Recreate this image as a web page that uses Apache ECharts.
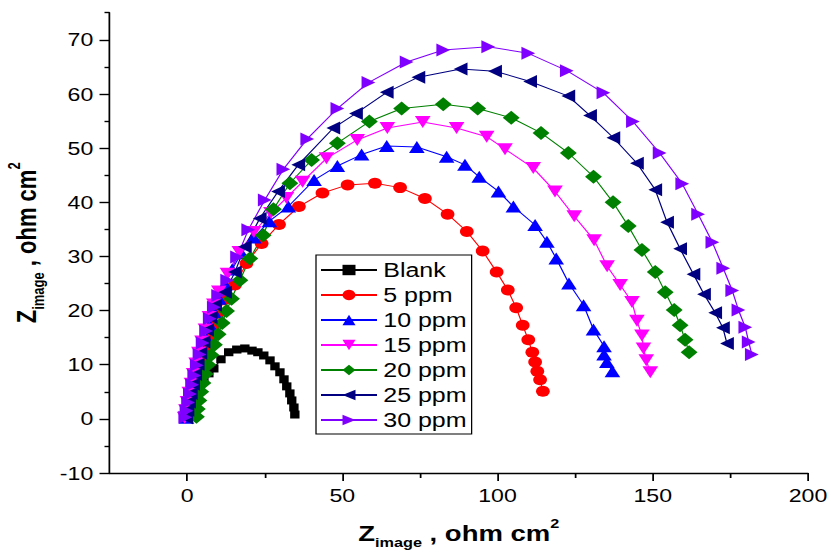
<!DOCTYPE html>
<html>
<head>
<meta charset="utf-8">
<script src="https://cdn.jsdelivr.net/npm/echarts@6/dist/echarts.min.js"></script>
<style>
  html, body { margin: 0; padding: 0; background: #fff; overflow: hidden; }
  /* the plot is laid out narrow and widened horizontally, like the wide-aspect original */
  #chart { width: 665px; height: 554px; transform: scaleX(1.25); transform-origin: 0 0; }
</style>
</head>
<body>
<div id="chart"></div>
<script>
// Nyquist plots: real vs imaginary impedance (ohm cm2) at each inhibitor dose
const seriesNames = ['Blank', '5 ppm', '10 ppm', '15 ppm', '20 ppm', '25 ppm', '30 ppm'];

const blankZ = [[0,0.1],[0.4,1.3],[1.0,2.6],[1.8,3.9],[2.8,5.1],[4.0,6.3],[5.4,7.4],[7.0,8.4],[8.6,9.3],[10.9,11.0],[13.4,12.3],[16.0,12.8],[18.6,13.0],[20.9,12.6],[22.8,12.3],[24.7,11.7],[26.7,10.8],[28.3,9.7],[29.9,8.6],[31.2,7.3],[32.1,6.0],[33.1,4.7],[33.7,3.4],[34.4,2.1],[34.7,0.8]];

const ppm5Z = [[0.5,0.3],[0.9,1.8],[1.5,3.4],[2.1,5.1],[2.9,6.9],[3.7,8.8],[4.7,10.8],[5.8,12.9],[7.0,15.0],[8.4,17.2],[10.0,19.5],[12.0,22.0],[15.4,24.7],[19.1,28.7],[24.0,32.4],[29.6,35.9],[36.0,39.2],[43.6,41.7],[51.7,43.2],[60.5,43.5],[68.6,42.7],[76.6,40.7],[83.9,37.8],[90.1,34.6],[95.2,31.0],[99.7,27.1],[103.3,23.8],[106.0,20.5],[108.1,17.3],[109.9,14.6],[111.2,12.3],[112.1,10.5],[112.8,8.8],[113.7,7.2],[114.6,5.1]];

const ppm10Z = [[-0.2,0.2],[0.3,1.7],[0.9,3.3],[1.5,5.0],[2.2,6.8],[3.0,8.7],[3.9,10.7],[4.9,12.8],[6.0,15.0],[7.3,17.3],[8.7,19.7],[10.3,22.2],[12.2,24.8],[14.5,27.6],[17.5,30.6],[21.5,33.5],[26.5,36.5],[32.6,39.2],[40.9,44.1],[48.4,46.7],[56.2,48.8],[64.3,50.4],[74.0,50.2],[83.6,48.4],[89.5,46.9],[94.1,44.7],[100.3,42.0],[105.1,39.2],[112.1,35.8],[115.9,32.7],[118.9,29.6],[123.0,25.0],[127.7,21.0],[130.9,16.5],[134.3,13.4],[134.3,11.9],[135.2,10.5],[137.0,8.8]];

const ppm15Z = [[-0.8,0.2],[-0.4,1.6],[0.1,3.1],[0.7,4.8],[1.4,6.5],[2.1,8.3],[2.9,10.2],[3.8,12.2],[4.8,14.3],[5.9,16.5],[7.2,18.8],[8.6,21.1],[10.2,23.5],[13.0,26.8],[16.8,30.8],[21.5,34.5],[27.0,38.0],[32.0,40.8],[37.2,43.8],[44.9,48.1],[54.8,51.5],[64.5,53.7],[75.9,54.8],[86.8,53.7],[96.5,52.1],[102.4,49.8],[111.5,46.3],[118.5,42.0],[124.7,37.4],[131.1,33.0],[135.3,28.2],[139.5,24.7],[143.3,21.6],[144.9,18.1],[146.5,15.4],[147.0,13.0],[147.9,10.8],[149.2,8.6]];

const ppm20Z = [[3.0,0.4],[3.3,1.8],[3.8,3.4],[4.4,5.0],[5.1,6.6],[5.8,8.3],[6.7,10.0],[7.7,11.8],[8.8,13.7],[10.0,15.6],[11.3,17.7],[12.7,19.9],[14.3,22.2],[17.0,25.6],[20.2,29.6],[24.5,33.9],[27.8,38.7],[33.1,43.5],[40.1,47.8],[48.4,50.9],[58.7,54.9],[69.1,57.3],[82.5,58.1],[93.6,57.3],[104.4,55.6],[114.0,52.8],[122.8,49.1],[130.9,44.7],[137.2,40.0],[142.1,35.6],[146.5,31.2],[150.8,27.1],[154.0,23.4],[156.9,20.1],[158.8,17.3],[160.4,14.6],[161.7,12.3]];

const ppm25Z = [[-0.3,0.2],[0.1,1.6],[0.6,3.1],[1.2,4.7],[1.9,6.4],[2.6,8.2],[3.4,10.1],[4.3,12.1],[5.3,14.2],[6.4,16.4],[7.6,18.7],[9.0,21.0],[12.2,23.4],[15.4,27.1],[18.6,31.8],[23.4,37.0],[29.3,42.0],[35.8,46.9],[47.1,53.7],[54.4,56.4],[64.3,60.3],[74.5,63.1],[88.1,64.6],[99.2,64.2],[110.5,62.3],[122.8,59.6],[129.8,56.0],[137.3,51.9],[144.9,47.2],[150.8,42.3],[154.6,36.3],[158.8,31.4],[163.1,26.7],[166.5,23.0],[170.1,19.6],[172.6,16.8],[173.9,13.9]];

const ppm30Z = [[-0.6,0.3],[-0.2,1.5],[0.3,3.0],[0.9,4.6],[1.6,6.3],[2.3,8.0],[3.1,9.9],[4.0,11.9],[5.0,14.0],[6.1,16.2],[7.3,18.5],[8.6,20.6],[10.0,22.8],[12.9,25.6],[16.1,29.9],[19.7,34.9],[25.0,40.4],[31.0,46.1],[38.7,51.7],[48.4,57.3],[58.4,62.1],[70.7,65.9],[82.5,68.1],[97.0,68.7],[109.9,67.5],[122.3,64.3],[134.1,60.2],[143.6,54.9],[152.2,49.1],[159.5,43.4],[164.6,37.8],[169.2,32.6],[172.7,27.8],[175.6,23.7],[177.6,20.1],[179.8,16.9],[180.9,14.2],[181.9,11.9]];

// axis ticks
const xMajorTicks = [0, 50, 100, 150, 200];
const xMinorTicks = [25, 75, 125, 175];
const yMajorTicks = [-10, 0, 10, 20, 30, 40, 50, 60, 70];
const yMinorTicks = [-5, 5, 15, 25, 35, 45, 55, 65, 75];

const FONT = 'Arial, "Liberation Sans", Helvetica, sans-serif';

const seriesData = [blankZ, ppm5Z, ppm10Z, ppm15Z, ppm20Z, ppm25Z, ppm30Z];
const seriesColors = ['#000000', '#ff0000', '#0000ff', '#ff00ff', '#008000', '#000080', '#8000ff'];
const seriesSymbols = ['rect', 'circle', 'triangle', 'triangle', 'diamond', 'triangle', 'triangle'];
const seriesRotate = [0, 0, 0, 180, 0, 90, -90];
const seriesSymbolSize = [[7.5, 8], 11, [12.5, 12], [12.5, 12], [13.5, 14], [13, 11], [13, 11]];

const titleRich = {
  b: { fontSize: 22, fontWeight: 'bold', fontFamily: FONT, color: '#000', lineHeight: 32, verticalAlign: 'middle' },
  s: { fontSize: 13, fontWeight: 'bold', fontFamily: FONT, color: '#000', lineHeight: 13, verticalAlign: 'bottom' },
  p: { fontSize: 13, fontWeight: 'bold', fontFamily: FONT, color: '#000', lineHeight: 13, verticalAlign: 'top' }
};
const titleText = '{b|Z}{s|image}{b| , ohm cm}{p|2}';

const axisLineStyle = { color: '#000', width: 1.4 };
const tickLabel = { color: '#000', fontSize: 18.5, fontFamily: FONT };

const chart = echarts.init(document.getElementById('chart'), null, { renderer: 'svg' });

chart.setOption({
  animation: false,
  backgroundColor: '#fff',
  grid: { left: 87.6, right: 18.6, top: 12.7, bottom: 81, containLabel: false, outerBoundsMode: 'none' },
  legend: {
    data: seriesNames,
    orient: 'vertical',
    left: 252.8,
    top: 255,
    itemWidth: 44.8,
    itemHeight: 13,
    itemGap: 5,
    padding: [5, 4, 4, 3],
    borderColor: '#000',
    borderWidth: 1,
    backgroundColor: '#fff',
    textStyle: { color: '#000', fontSize: 20, fontFamily: FONT }
  },
  xAxis: [
    {
      type: 'value', min: -25, max: 200, position: 'bottom',
      axisLine: { show: true, onZero: false, lineStyle: axisLineStyle },
      axisTick: { show: true, inside: false, length: 8, customValues: xMajorTicks, lineStyle: axisLineStyle },
      axisLabel: Object.assign({ customValues: xMajorTicks, margin: 13 }, tickLabel),
      splitLine: { show: false },
      name: titleText, nameLocation: 'middle', nameGap: 44,
      nameTextStyle: { rich: titleRich }
    },
    {
      type: 'value', min: -25, max: 200, position: 'bottom',
      axisLine: { show: false, onZero: false },
      axisTick: { show: true, inside: false, length: 5, customValues: xMinorTicks, lineStyle: axisLineStyle },
      axisLabel: { show: false },
      splitLine: { show: false }
    }
  ],
  yAxis: [
    {
      type: 'value', min: -10, max: 75, position: 'left',
      axisLine: { show: true, onZero: false, lineStyle: axisLineStyle },
      axisTick: { show: true, inside: false, length: 8, customValues: yMajorTicks, lineStyle: axisLineStyle },
      axisLabel: Object.assign({ customValues: yMajorTicks, margin: 13 }, tickLabel),
      splitLine: { show: false },
      name: titleText, nameLocation: 'middle', nameGap: 46, nameRotate: 90,
      nameTextStyle: { rich: titleRich }
    },
    {
      type: 'value', min: -10, max: 75, position: 'left',
      axisLine: { show: false, onZero: false },
      axisTick: { show: true, inside: false, length: 4, customValues: yMinorTicks, lineStyle: axisLineStyle },
      axisLabel: { show: false },
      splitLine: { show: false }
    }
  ],
  series: seriesNames.map(function (name, i) {
    return {
      name: name,
      type: 'line',
      xAxisIndex: 0,
      yAxisIndex: 0,
      data: seriesData[i],
      symbol: seriesSymbols[i],
      symbolSize: seriesSymbolSize[i],
      symbolRotate: seriesRotate[i],
      showSymbol: true,
      showAllSymbol: true,
      color: seriesColors[i],
      lineStyle: { width: 1, color: seriesColors[i] },
      itemStyle: { color: seriesColors[i] },
      emphasis: { disabled: true }
    };
  })
});
</script>
</body>
</html>
